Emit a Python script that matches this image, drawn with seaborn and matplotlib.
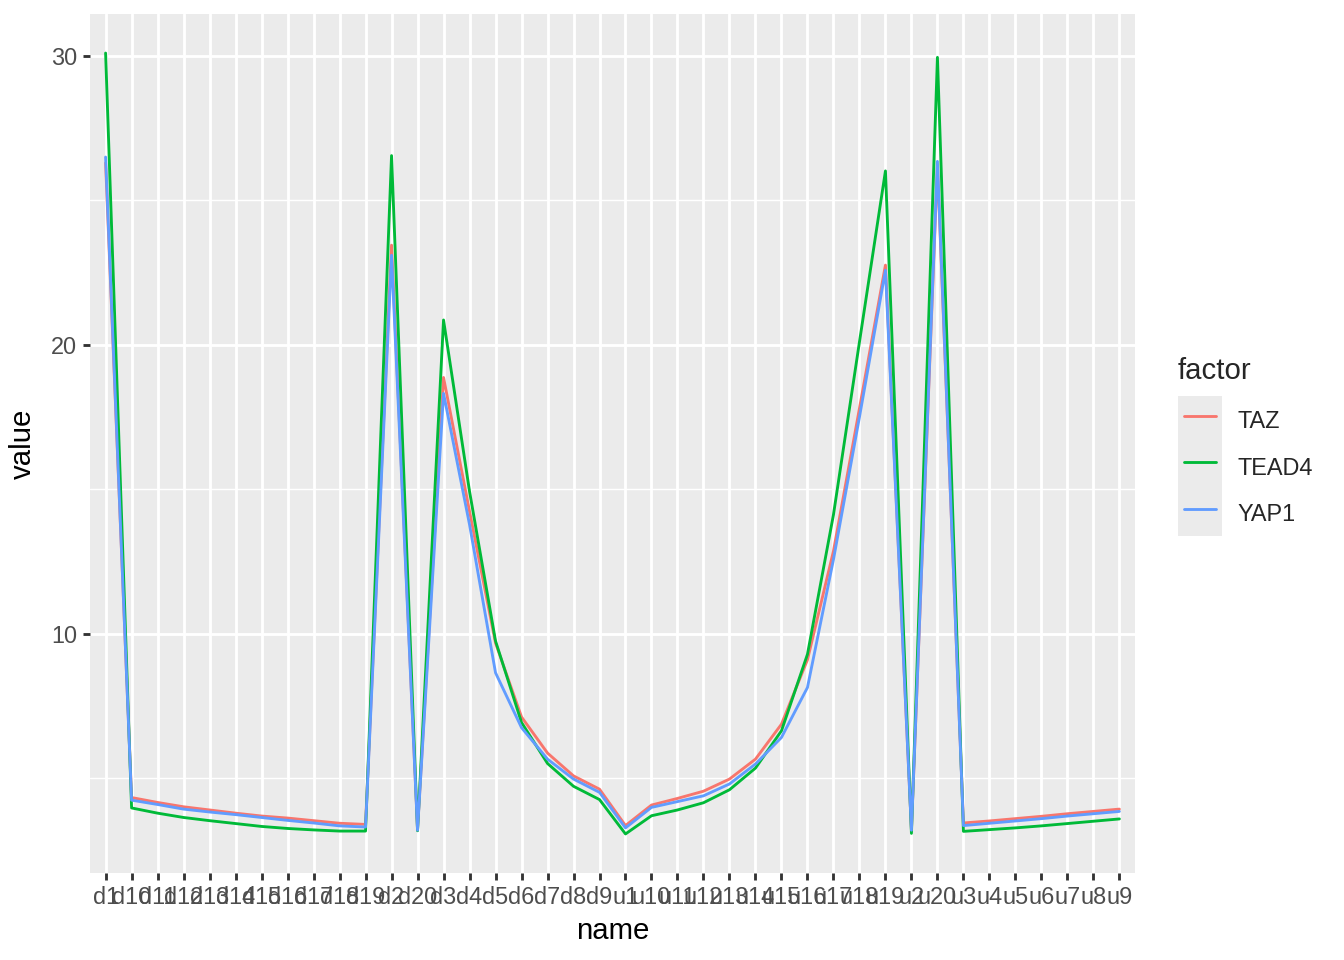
import numpy as np
import pandas as pd
import seaborn as sns
import matplotlib.pyplot as plt
from matplotlib.ticker import FixedLocator
from matplotlib.patches import Rectangle

# x categories (alphabetical, as ggplot orders a character column)
names = ["d1", "d10", "d11", "d12", "d13", "d14", "d15", "d16", "d17", "d18",
         "d19", "d2", "d20", "d3", "d4", "d5", "d6", "d7", "d8", "d9",
         "u1", "u10", "u11", "u12", "u13", "u14", "u15", "u16", "u17", "u18",
         "u19", "u2", "u20", "u3", "u4", "u5", "u6", "u7", "u8", "u9"]

taz = [26.3, 4.33, 4.16, 4.01, 3.90, 3.79, 3.69, 3.62, 3.53, 3.44,
       3.40, 23.45, 3.22, 18.87, 14.24, 9.68, 7.12, 5.87, 5.08, 4.62,
       3.36, 4.07, 4.30, 4.55, 4.97, 5.66, 6.87, 9.10, 12.86, 17.8,
       22.76, 3.20, 26.2, 3.45, 3.52, 3.60, 3.68, 3.77, 3.85, 3.93]

tead4 = [30.1, 3.97, 3.79, 3.64, 3.53, 3.43, 3.33, 3.26, 3.21, 3.17,
         3.17, 26.55, 3.18, 20.86, 14.93, 9.75, 6.93, 5.51, 4.72, 4.26,
         3.07, 3.70, 3.90, 4.15, 4.60, 5.35, 6.64, 9.29, 14.12, 20.1,
         26.02, 3.09, 29.95, 3.16, 3.22, 3.28, 3.35, 3.43, 3.51, 3.59]

yap1 = [26.5, 4.24, 4.09, 3.93, 3.83, 3.74, 3.64, 3.54, 3.45, 3.35,
        3.31, 23.1, 3.20, 18.32, 13.78, 8.65, 6.75, 5.66, 4.97, 4.51,
        3.28, 3.99, 4.19, 4.39, 4.80, 5.49, 6.41, 8.14, 12.57, 17.5,
        22.58, 3.20, 26.35, 3.36, 3.44, 3.52, 3.60, 3.69, 3.77, 3.85]

factors = ["TAZ", "TEAD4", "YAP1"]
colors = ["#F8766D", "#00BA38", "#619CFF"]

df = pd.concat([
    pd.DataFrame({"name": names, "value": taz, "factor": "TAZ"}),
    pd.DataFrame({"name": names, "value": tead4, "factor": "TEAD4"}),
    pd.DataFrame({"name": names, "value": yap1, "factor": "YAP1"}),
], ignore_index=True)

sns.set_style("darkgrid", rc={"axes.facecolor": "#EBEBEB",
                              "grid.color": "white"})
plt.rcParams["font.family"] = ["Liberation Sans", "DejaVu Sans"]

fig = plt.figure(figsize=(7, 5), dpi=192)
ax = fig.add_axes([90 / 1344, 1 - 873 / 960,
                   (1135 - 90) / 1344, (873 - 14) / 960])

sns.lineplot(data=df, x="name", y="value", hue="factor",
             hue_order=factors, palette=colors, sort=False,
             linewidth=1.07, ax=ax)

handles, labels = ax.get_legend_handles_labels()
ax.get_legend().remove()

# ggplot-like scales
ax.set_xlim(-0.6, len(names) - 1 + 0.6)
allv = np.array(taz + tead4 + yap1)
lo, hi = allv.min(), allv.max()
pad = 0.05 * (hi - lo)
ax.set_ylim(lo - pad, hi + pad)
ax.set_yticks([10, 20, 30])
ax.yaxis.set_minor_locator(FixedLocator([5, 15, 25]))

ax.grid(which="major", color="white", linewidth=1.07)
ax.grid(which="minor", axis="y", color="white", linewidth=0.53)
ax.set_axisbelow(True)
for s in ax.spines.values():
    s.set_visible(False)

ax.tick_params(axis="both", which="major", length=2.75, width=1.07,
               color="#333333", labelsize=8.8, labelcolor="#4D4D4D",
               pad=2.2, bottom=True, left=True)
ax.tick_params(axis="y", which="minor", length=0)

ax.set_xlabel("name", fontsize=11, color="black", labelpad=3)
ax.set_ylabel("value", fontsize=11, color="black", labelpad=5)

# legend, ggplot style: title, grey key column, labels
fig.text(1178 / 1344, 1 - 371 / 960, "factor", fontsize=11,
         ha="left", va="center")
leg = fig.legend(handles, labels, loc="upper left",
                 bbox_to_anchor=(1184 / 1344, 1 - 403 / 960),
                 frameon=False, borderpad=0, borderaxespad=0,
                 fontsize=8.8, handlelength=1.36,
                 handleheight=1.98, labelspacing=0.45, handletextpad=0.9)
for h in leg.legend_handles:
    h.set_linewidth(1.07)
fig.patches.append(Rectangle((1178 / 1344, 1 - 536 / 960),
                             44 / 1344, 140 / 960,
                             transform=fig.transFigure,
                             facecolor="#EBEBEB", edgecolor="none",
                             zorder=-1))

fig.savefig("out.png", dpi=192)
